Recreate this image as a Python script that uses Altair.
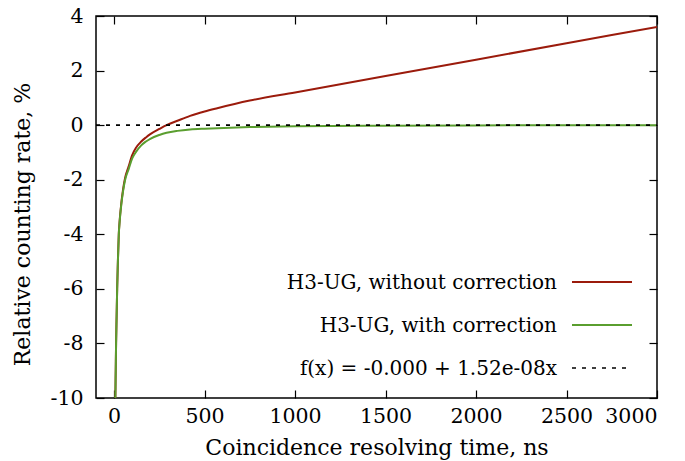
import altair as alt
import pandas as pd

# Coincidence resolving time (ns)
t_ns = [6, 7, 9, 11, 14, 17, 21, 26, 30, 40, 50, 61, 80, 100, 121, 150, 176, 200,
        250, 290, 350, 420, 500, 570, 750, 1000, 1500, 2000, 2500, 3000]
# H3-UG, with correction (%)
with_corr = [-11.0, -10.0, -9.0, -8.0, -7.0, -6.0, -5.0, -4.0, -3.6, -2.9, -2.4, -2.0,
             -1.62, -1.22, -0.98, -0.74, -0.6, -0.5, -0.36, -0.28, -0.21, -0.16, -0.13,
             -0.11, -0.07, -0.04, -0.02, -0.01, -0.005, 0.0]
# H3-UG, without correction (%)
without_corr = [-10.99, -9.99, -8.99, -7.99, -6.98, -5.98, -4.97, -3.97, -3.56, -2.85,
                -2.34, -1.93, -1.52, -1.1, -0.83, -0.6, -0.45, -0.33, -0.14, 0.0,
                0.16, 0.34, 0.5, 0.62, 0.9, 1.2, 1.8, 2.4, 3.0, 3.6]
# Fit line f(x) = -0.000 + 1.52e-08x
fit_x = [-100, 3000]
fit_y = [0.0, 0.0]

labels = ["H3-UG, without correction", "H3-UG, with correction",
          "f(x) = -0.000 + 1.52e-08x"]
RED = "#9b1b0c"
GREEN = "#5a9e2f"

x_ticks = [0, 500, 1000, 1500, 2000, 2500, 3000]
y_ticks = [-10, -8, -6, -4, -2, 0, 2, 4]

FONT = "DejaVu Serif"

df_red = pd.DataFrame({"t": t_ns, "v": without_corr})
df_green = pd.DataFrame({"t": t_ns, "v": with_corr})
df_fit = pd.DataFrame({"t": fit_x, "v": fit_y})

xscale = alt.Scale(domain=[-100, 3000], nice=False, zero=False)
yscale = alt.Scale(domain=[-10, 4], nice=False, zero=False)

x_bottom = alt.X("t:Q", scale=xscale, axis=alt.Axis(
    orient="bottom", values=x_ticks, offset=-8, tickSize=8, domain=False, grid=False,
    labelExpr="toString(datum.value)",
    labelPadding=8, labelFont=FONT, labelFontSize=20.5, labelColor="black",
    tickColor="black", tickWidth=1.2, title="Coincidence resolving time, ns",
    titleFont=FONT, titleFontSize=22, titleFontWeight="normal", titleColor="black",
    titleY=64, titleBaseline="alphabetic"))
y_left = alt.Y("v:Q", scale=yscale, axis=alt.Axis(
    orient="left", values=y_ticks, offset=-8, tickSize=8, domain=False, grid=False,
    labelExpr="toString(datum.value)",
    labelPadding=13, labelFont=FONT, labelFontSize=20.5, labelColor="black",
    tickColor="black", tickWidth=1.2, title="Relative counting rate, %",
    titleFont=FONT, titleFontSize=22, titleFontWeight="normal", titleColor="black",
    titleX=-75, titleY=208, titleAngle=-90, titleBaseline="alphabetic"))

red = alt.Chart(df_red).mark_line(color=RED, strokeWidth=2, clip=True,
                                  interpolate="monotone").encode(x=x_bottom, y=y_left)
green = alt.Chart(df_green).mark_line(color=GREEN, strokeWidth=2, clip=True,
                                      interpolate="monotone").encode(
    x=alt.X("t:Q", scale=xscale, axis=None), y=alt.Y("v:Q", scale=yscale, axis=None))
fit = alt.Chart(df_fit).mark_line(color="black", strokeWidth=1.6, strokeDash=[4, 6],
                                  clip=True).encode(
    x=alt.X("t:Q", scale=xscale, axis=None), y=alt.Y("v:Q", scale=yscale, axis=None))

# mirrored inward ticks on top and right
mirror = alt.Chart(df_fit).mark_point(opacity=0).encode(
    x=alt.X("t:Q", scale=xscale, axis=alt.Axis(
        orient="top", values=x_ticks, offset=-8, tickSize=8, domain=False, grid=False,
        labels=False, title=None, tickColor="black", tickWidth=1.2)),
    y=alt.Y("v:Q", scale=yscale, axis=alt.Axis(
        orient="right", values=y_ticks, offset=-8, tickSize=8, domain=False, grid=False,
        labels=False, title=None, tickColor="black", tickWidth=1.2)))

# key (bottom right, labels to the left of line samples)
key_layers = []
key_y = [282, 325, 368]
key_styles = [dict(color=RED, strokeWidth=2), dict(color=GREEN, strokeWidth=2),
              dict(color="black", strokeWidth=1.6, strokeDash=[4, 6])]
for lab, ky, st in zip(labels, key_y, key_styles):
    ky_rel = ky - 16
    key_layers.append(
        alt.Chart(pd.DataFrame({"label": [lab]})).mark_text(
            align="right", baseline="middle", font=FONT, fontSize=20, color="black"
        ).encode(text="label:N", x=alt.value(557 - 96), y=alt.value(ky_rel + 1)))
    key_layers.append(
        alt.Chart(pd.DataFrame({"label": [lab]})).mark_rule(**st).encode(
            x=alt.value(572 - 96), x2=alt.value(632 - 96), y=alt.value(ky_rel)))

chart = alt.layer(red, green, fit, mirror, *key_layers).resolve_axis(
    x="independent", y="independent"
).properties(
    width=561, height=382,
    autosize=alt.AutoSizeParams(type="none"),
    padding={"left": 96, "top": 16, "right": 28, "bottom": 63},
    background="white",
).configure_view(stroke="black", strokeWidth=1.5)

chart.save("out.html", embed_options={"renderer": "svg", "actions": False})
